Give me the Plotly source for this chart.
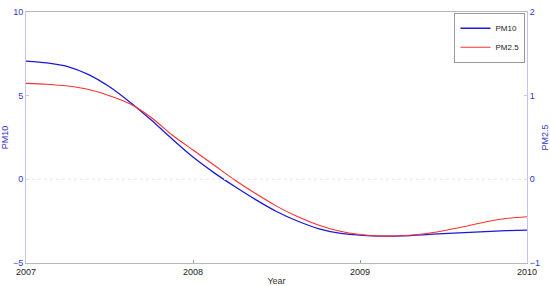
import plotly.graph_objects as go

# values (every eighth of a year)
years = [2007 + k / 8 for k in range(25)]
pm10 = [7.07, 6.96, 6.74, 6.26, 5.53, 4.59, 3.54, 2.41, 1.33,
        0.40, -0.43, -1.21, -1.92, -2.49, -2.94, -3.21, -3.33,
        -3.39, -3.38, -3.32, -3.24, -3.18, -3.12, -3.07, -3.03]
pm25 = [1.147, 1.137, 1.115, 1.073, 1.0, 0.9, 0.739, 0.53, 0.35,
        0.171, -0.008, -0.17, -0.32, -0.445, -0.546, -0.618, -0.66,
        -0.678, -0.674, -0.654, -0.614, -0.564, -0.51, -0.468, -0.447]

x_ticks = [2007, 2008, 2009, 2010]
left_ticks = [-5, 0, 5, 10]
right_ticks = [-1, 0, 1, 2]

BLUE = "#1a1ad8"
RED = "#ff3030"
AX_BLUE = "#3434c8"
FONT = "Liberation Sans, Arial, sans-serif"

fig = go.Figure()
fig.add_trace(go.Scatter(
    x=years, y=pm10, mode="lines", name="PM10",
    line=dict(color=BLUE, width=1.3, shape="spline", smoothing=0.8),
))
fig.add_trace(go.Scatter(
    x=years, y=pm25, mode="lines", name="PM2.5", yaxis="y2",
    line=dict(color=RED, width=1.1, shape="spline", smoothing=0.8),
))
fig.add_hline(y=0, line_width=1, line_color="#ece6e6", line_dash="dot")

fig.update_layout(
    width=550, height=286,
    margin=dict(l=26, r=23, t=12, b=23),
    paper_bgcolor="white", plot_bgcolor="white",
    font=dict(family=FONT, size=9, color="#333"),
    xaxis=dict(
        range=[2007, 2010], tickvals=x_ticks, ticktext=[str(t) for t in x_ticks],
        showline=True, linecolor="#b8b8b8", linewidth=1, mirror=True,
        ticks="inside", ticklen=3, tickcolor="#999", showgrid=False, zeroline=False,
        automargin=False,
        title=dict(text="Year", standoff=1, font=dict(size=9, color="#333")),
        tickfont=dict(size=9, color="#222"),
    ),
    yaxis=dict(
        range=[-5, 10], tickvals=left_ticks,
        showline=True, linecolor="#c4c4f4", linewidth=1,
        ticks="inside", ticklen=3, tickcolor="#c4c4f4", showgrid=False, zeroline=False,
        automargin=False,
        title=dict(text="PM10", standoff=2, font=dict(size=9, color=AX_BLUE)),
        tickfont=dict(size=9, color=AX_BLUE),
    ),
    yaxis2=dict(
        range=[-1, 2], tickvals=right_ticks, overlaying="y", side="right",
        showline=True, linecolor="#c4c4f4", linewidth=1,
        ticks="inside", ticklen=3, tickcolor="#c4c4f4", showgrid=False, zeroline=False,
        automargin=False,
        title=dict(text="PM2.5", standoff=2, font=dict(size=9, color=AX_BLUE)),
        tickfont=dict(size=9, color=AX_BLUE),
    ),
    legend=dict(
        x=0.997, y=0.997, xanchor="right", yanchor="top",
        bgcolor="white", bordercolor="#999", borderwidth=1,
        font=dict(size=8, color="#222"), tracegroupgap=0,
        itemwidth=30,
    ),
)

fig.write_html("out.html", config={"displayModeBar": False},
               post_script="document.body.style.margin='0';")
